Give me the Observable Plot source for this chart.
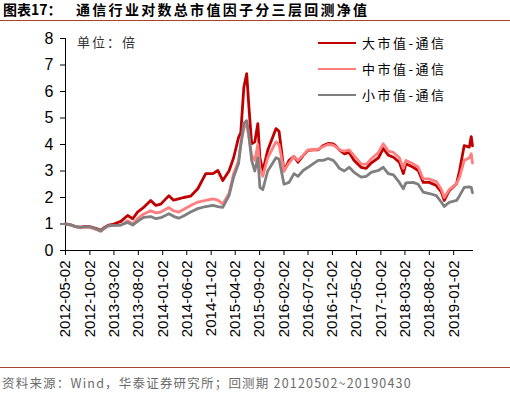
<!DOCTYPE html>
<html>
<head>
<meta charset="utf-8">
<script src="https://cdn.jsdelivr.net/npm/d3@7"></script>
<script src="https://cdn.jsdelivr.net/npm/@observablehq/plot@0.6"></script>
<style>
  html, body { margin: 0; padding: 0; background: #fff; }
  body { width: 510px; height: 396px; position: relative; overflow: hidden; font-family: "Noto Sans CJK SC", sans-serif; }
  #title { position: absolute; left: 0; top: 0; width: 510px; height: 20px; border-bottom: 1.5px solid #A8432F; }
  #title span { position: absolute; top: 1px; font-size: 14px; font-weight: 700; line-height: 17px; color: #000; }
  #chart { position: absolute; left: 0; top: 22px; }
  #caption { position: absolute; left: 0; top: 367px; width: 510px; height: 29px; border-top: 1px solid #A8432F; }
  #caption span { position: absolute; left: 2px; top: 7px; font-size: 12.5px; line-height: 16px; color: #6b6b6b; letter-spacing: 1.2px; white-space: nowrap; }
  #unit { position: absolute; left: 77px; top: 34px; font-size: 13px; line-height: 16px; letter-spacing: 2px; color: #333; }
  .leg { position: absolute; left: 318px; height: 16px; font-size: 13px; line-height: 16px; letter-spacing: 2.5px; color: #000; white-space: nowrap; }
  .leg i { display: inline-block; width: 38px; height: 0; border-top: 2.8px solid; vertical-align: middle; margin-right: 6px; position: relative; top: -1px; }
</style>
</head>
<body>
<div id="title"><span style="left:3px">图表17：</span><span style="left:76px;letter-spacing:2.3px">通信行业对数总市值因子分三层回测净值</span></div>
<div id="chart"></div>
<div id="unit"></div>
<div id="legend"></div>
<div id="caption"><span></span></div>
<script>
// ---- data ----
const dates = ["2012-05-02","2012-06-03","2012-07-04","2012-08-05","2012-09-06","2012-10-07","2012-11-08","2012-12-09","2013-01-04","2013-01-23","2013-03-01","2013-04-14","2013-05-27","2013-06-28","2013-07-28","2013-09-05","2013-10-19","2013-11-20","2013-12-21","2014-02-10","2014-03-11","2014-04-12","2014-05-13","2014-06-26","2014-08-10","2014-09-29","2014-11-13","2014-12-14","2015-01-14","2015-02-22","2015-03-23","2015-04-23","2015-05-07","2015-05-26","2015-06-13","2015-06-26","2015-07-14","2015-08-03","2015-08-22","2015-09-04","2015-09-22","2015-10-23","2015-12-14","2016-01-02","2016-02-02","2016-03-05","2016-04-05","2016-04-30","2016-06-01","2016-07-02","2016-08-02","2016-09-04","2016-10-05","2016-11-05","2016-12-07","2016-12-26","2017-01-14","2017-02-14","2017-03-17","2017-04-17","2017-05-31","2017-07-02","2017-08-02","2017-09-17","2017-10-17","2017-11-17","2017-12-20","2018-01-26","2018-02-20","2018-03-08","2018-04-23","2018-05-24","2018-06-25","2018-08-02","2018-09-15","2018-10-17","2018-11-04","2018-12-05","2019-01-20","2019-02-08","2019-03-09","2019-04-10","2019-04-22","2019-04-30"];
const largeCap = [1.00,0.97,0.90,0.88,0.91,0.89,0.84,0.76,0.88,0.95,1.00,1.10,1.32,1.20,1.45,1.63,1.89,1.70,1.75,2.07,1.90,1.95,2.00,2.05,2.33,2.90,2.90,3.02,2.64,3.00,3.50,4.27,4.45,6.15,6.67,5.50,4.03,4.10,4.79,3.50,3.00,3.78,4.60,4.50,3.00,3.40,3.55,3.33,3.58,3.78,3.80,3.80,3.96,4.04,4.02,3.93,3.80,3.65,3.70,3.40,3.14,3.10,3.30,3.50,3.85,3.60,3.52,3.33,2.90,3.27,3.14,3.02,2.57,2.57,2.45,2.20,1.89,2.26,2.52,3.02,3.96,3.90,4.30,3.95];
const midCap   = [1.00,0.96,0.89,0.86,0.88,0.86,0.80,0.72,0.84,0.92,0.95,0.96,1.13,1.00,1.20,1.38,1.50,1.42,1.45,1.62,1.50,1.45,1.55,1.70,1.83,1.89,1.95,1.90,1.76,2.15,2.90,3.40,4.00,4.60,4.80,4.30,3.60,3.40,4.00,3.10,2.80,3.50,4.10,4.00,3.00,3.30,3.55,3.40,3.60,3.80,3.80,3.82,3.92,4.00,3.98,3.90,3.80,3.75,3.80,3.58,3.27,3.25,3.45,3.70,4.03,3.75,3.70,3.50,3.10,3.40,3.27,3.15,2.70,2.70,2.60,2.30,2.00,2.30,2.52,2.77,3.40,3.50,3.65,3.30];
const smallCap = [1.00,0.97,0.90,0.87,0.90,0.88,0.82,0.74,0.86,0.93,0.95,0.96,1.06,0.96,1.10,1.25,1.28,1.20,1.24,1.39,1.29,1.22,1.30,1.45,1.58,1.66,1.70,1.66,1.63,2.07,2.77,3.28,4.00,4.80,4.90,4.40,3.40,3.00,3.50,2.38,2.30,3.00,3.50,3.45,2.50,2.57,2.90,2.80,3.02,3.14,3.27,3.40,3.40,3.47,3.40,3.27,3.10,3.00,3.14,2.95,2.77,2.80,2.95,3.02,3.14,2.90,2.85,2.57,2.33,2.55,2.57,2.50,2.20,2.15,2.07,1.82,1.66,1.82,1.89,2.07,2.38,2.40,2.38,2.18];
const seriesNames = ["大市值-通信","中市值-通信","小市值-通信"];
const seriesColors = ["#C00000","#FF7F7F","#7F7F7F"];
const xTickLabels = ["2012-05-02","2012-10-02","2013-03-02","2013-08-02","2014-01-02","2014-06-02","2014-11-02","2015-04-02","2015-09-02","2016-02-02","2016-07-02","2016-12-02","2017-05-02","2017-10-02","2018-03-02","2018-08-02","2019-01-02"];
const yTicks = [0,1,2,3,4,5,6,7,8];
const unitLabel = "单位：倍";
const captionText = "资料来源：Wind，华泰证券研究所；回测期 20120502~20190430";
const xStart = "2012-05-02", xEnd = "2019-04-30";

// ---- build table ----
const parse = d3.utcParse("%Y-%m-%d");
const valuesBySeries = [largeCap, midCap, smallCap];
const rows = [];
valuesBySeries.forEach((vals, s) => vals.forEach((v, i) => rows.push({date: parse(dates[i]), value: v, series: seriesNames[s]})));

const chart = Plot.plot({
  width: 510,
  height: 344,
  marginLeft: 65,
  marginRight: 38,
  marginTop: 16,
  marginBottom: 116,
  style: {fontFamily: "'Liberation Sans', Arial, sans-serif", color: "#000", background: "transparent"},
  x: {type: "utc", domain: [parse(xStart), parse(xEnd)]},
  y: {domain: [0, 8]},
  color: {domain: seriesNames, range: seriesColors},
  marks: [
    Plot.axisY({ticks: yTicks, tickSize: 5, tickPadding: 7, fontSize: 16, label: null, tickFormat: d => d}),
    Plot.axisX({ticks: xTickLabels.map(parse), tickFormat: d3.utcFormat("%Y-%m-%d"), tickRotate: -90, tickSize: 5, tickPadding: 5, fontSize: 15, label: null}),
    Plot.frame({anchor: "left", stroke: "#000"}),
    Plot.frame({anchor: "bottom", stroke: "#000"}),
    Plot.line(rows, {x: "date", y: "value", z: "series", stroke: "series", strokeWidth: 2.8, curve: "linear"})
  ]
});
document.getElementById("chart").appendChild(chart);

document.getElementById("unit").textContent = unitLabel;
document.querySelector("#caption span").textContent = captionText;
const leg = document.getElementById("legend");
const legTops = [35, 61, 87];
seriesNames.forEach((name, i) => {
  const d = document.createElement("div");
  d.className = "leg";
  d.style.top = legTops[i] + "px";
  d.innerHTML = `<i style="border-color:${seriesColors[i]}"></i>${name}`;
  leg.appendChild(d);
});
</script>
</body>
</html>
